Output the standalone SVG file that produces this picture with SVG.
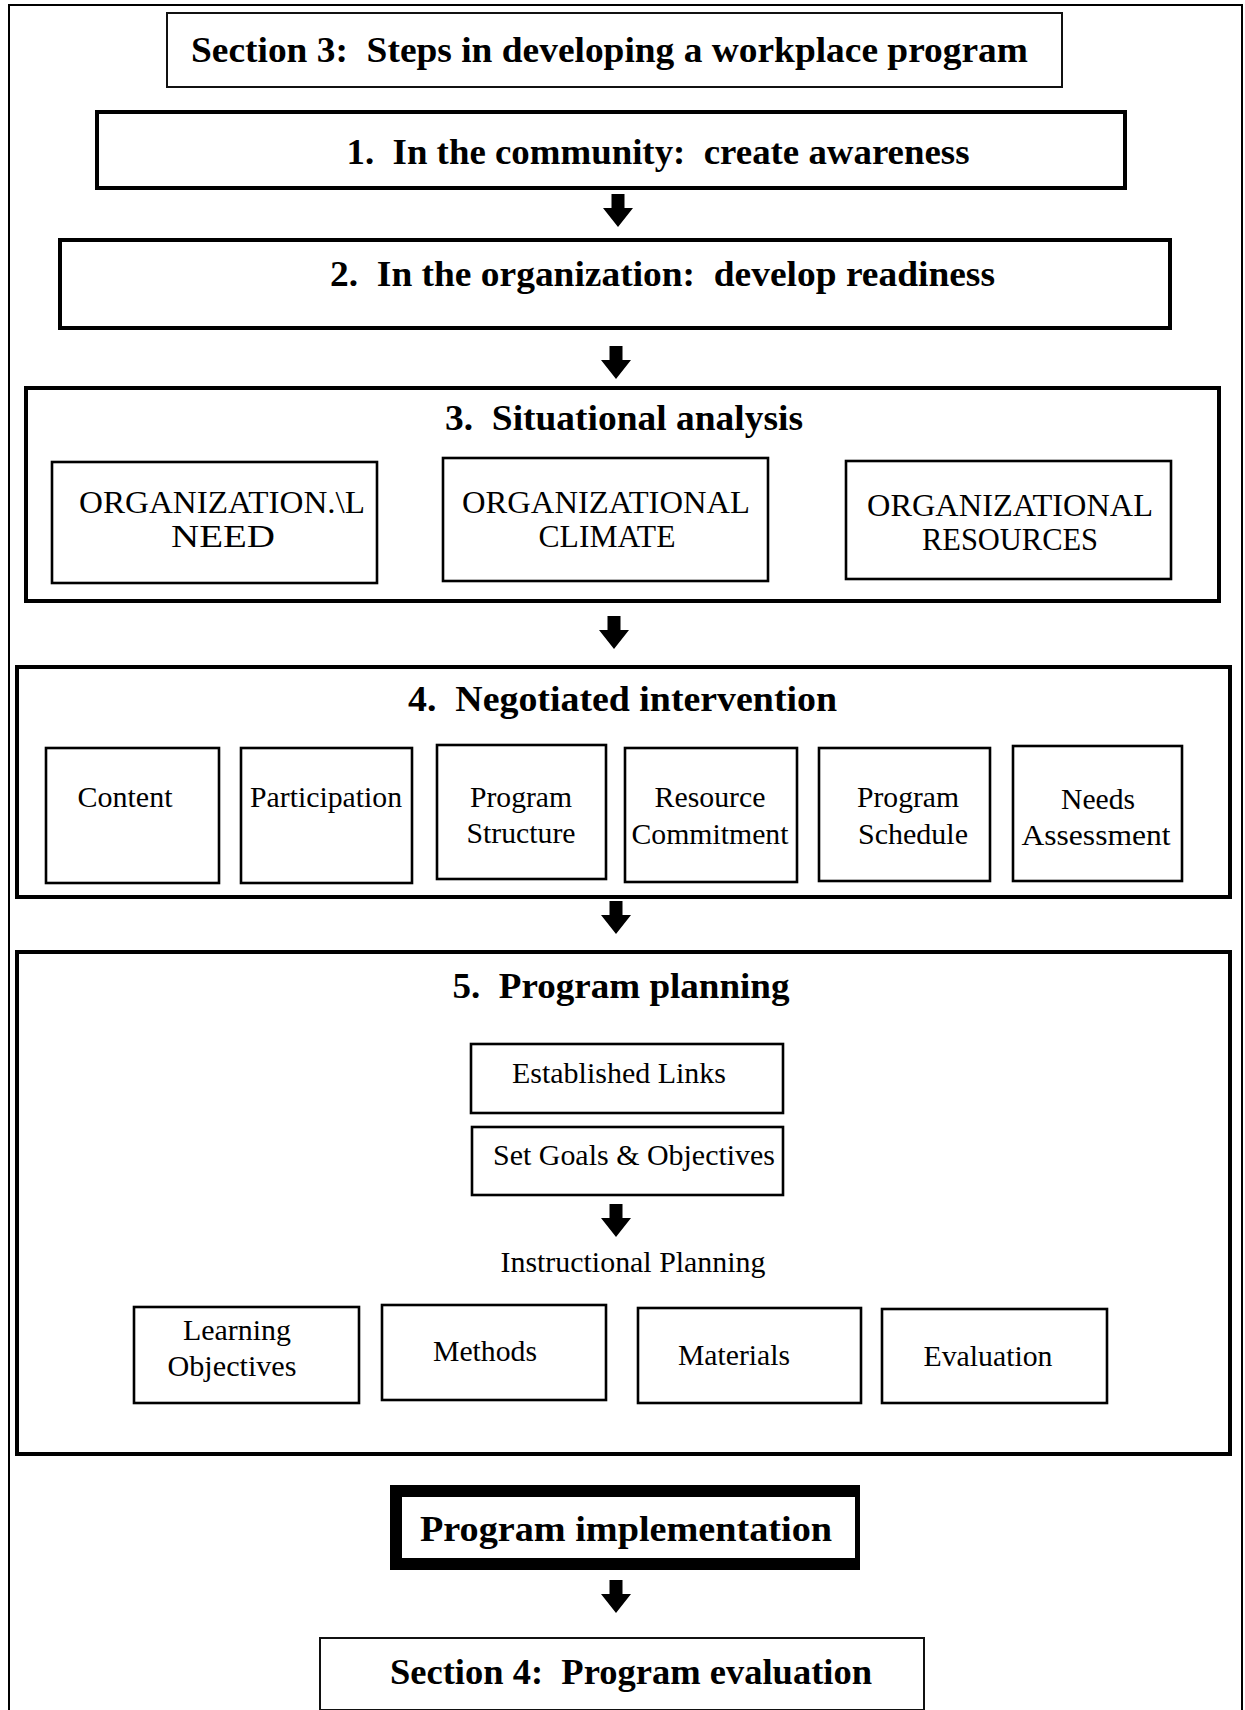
<svg xmlns="http://www.w3.org/2000/svg" width="1245" height="1710" viewBox="0 0 1245 1710">
<style>
.frame{fill:none;stroke:#000;stroke-width:2}
.thin{fill:#fff;stroke:#111;stroke-width:2}
.box{fill:#fff;stroke:#000;stroke-width:2.6}
.main{fill:#fff;stroke:#000;stroke-width:4}
.h{font-family:"Liberation Serif","Times New Roman",serif;font-weight:bold;font-size:36px;text-anchor:middle;white-space:pre;fill:#000}
.t{font-family:"Liberation Serif","Times New Roman",serif;font-size:30px;text-anchor:middle;white-space:pre;fill:#000}
.caps{font-size:32px}
.arrow{fill:#000}
</style>
<defs>
<path id="arr" d="M -6.5,0 H 6.5 V 14 H 15 L 0,33 L -15,14 H -6.5 Z"/>
</defs>
<rect width="1245" height="1710" fill="#fff"/>
<path class="frame" d="M 9,1712 V 5 H 1242 V 1712"/>

<g id="title">
<rect class="thin" x="167" y="13" width="895" height="74"/>
<text class="h" x="609.5" y="62" textLength="837" lengthAdjust="spacingAndGlyphs">Section 3:  Steps in developing a workplace program</text>
</g>

<g id="step1">
<rect class="main" x="97" y="112" width="1028" height="76"/>
<text class="h" x="658" y="164" textLength="623" lengthAdjust="spacingAndGlyphs">1.  In the community:  create awareness</text>
</g>

<g id="step2">
<rect class="main" x="60" y="240" width="1110" height="88"/>
<text class="h" x="662.5" y="286" textLength="665" lengthAdjust="spacingAndGlyphs">2.  In the organization:  develop readiness</text>
</g>

<g id="step3">
<rect class="main" x="26" y="388" width="1193" height="213"/>
<text class="h" x="624" y="430" textLength="358" lengthAdjust="spacingAndGlyphs">3.  Situational analysis</text>
</g>
<g id="org-need">
<rect class="box" x="52" y="462" width="325" height="121"/>
<text class="t caps" x="222" y="513" textLength="286" lengthAdjust="spacingAndGlyphs">ORGANIZATION.\L</text>
<text class="t caps" x="223" y="547" textLength="104" lengthAdjust="spacingAndGlyphs">NEED</text>
</g>
<g id="org-climate">
<rect class="box" x="443" y="458" width="325" height="123"/>
<text class="t caps" x="606" y="513" textLength="288" lengthAdjust="spacingAndGlyphs">ORGANIZATIONAL</text>
<text class="t caps" x="607" y="547" textLength="137" lengthAdjust="spacingAndGlyphs">CLIMATE</text>
</g>
<g id="org-resources">
<rect class="box" x="846" y="461" width="325" height="118"/>
<text class="t caps" x="1010" y="516" textLength="286" lengthAdjust="spacingAndGlyphs">ORGANIZATIONAL</text>
<text class="t caps" x="1010" y="550" textLength="176" lengthAdjust="spacingAndGlyphs">RESOURCES</text>
</g>

<g id="step4">
<rect class="main" x="17" y="667" width="1213" height="230"/>
<text class="h" x="622.5" y="711" textLength="429" lengthAdjust="spacingAndGlyphs">4.  Negotiated intervention</text>
</g>
<g id="content">
<rect class="box" x="46" y="748" width="173" height="135"/>
<text class="t" x="125" y="807" textLength="95" lengthAdjust="spacingAndGlyphs">Content</text>
</g>
<g id="participation">
<rect class="box" x="241" y="748" width="171" height="135"/>
<text class="t" x="326" y="807" textLength="152" lengthAdjust="spacingAndGlyphs">Participation</text>
</g>
<g id="program-structure">
<rect class="box" x="437" y="745" width="169" height="134"/>
<text class="t" x="521" y="807" textLength="102" lengthAdjust="spacingAndGlyphs">Program</text>
<text class="t" x="521" y="843" textLength="109" lengthAdjust="spacingAndGlyphs">Structure</text>
</g>
<g id="resource-commitment">
<rect class="box" x="625" y="748" width="172" height="134"/>
<text class="t" x="710" y="807" textLength="111" lengthAdjust="spacingAndGlyphs">Resource</text>
<text class="t" x="710" y="844" textLength="157" lengthAdjust="spacingAndGlyphs">Commitment</text>
</g>
<g id="program-schedule">
<rect class="box" x="819" y="748" width="171" height="133"/>
<text class="t" x="908" y="807" textLength="102" lengthAdjust="spacingAndGlyphs">Program</text>
<text class="t" x="913" y="844" textLength="110" lengthAdjust="spacingAndGlyphs">Schedule</text>
</g>
<g id="needs-assessment">
<rect class="box" x="1013" y="746" width="169" height="135"/>
<text class="t" x="1098" y="809" textLength="74" lengthAdjust="spacingAndGlyphs">Needs</text>
<text class="t" x="1096" y="845" textLength="149" lengthAdjust="spacingAndGlyphs">Assessment</text>
</g>

<g id="step5">
<rect class="main" x="17" y="952" width="1213" height="502"/>
<text class="h" x="621" y="998" textLength="337" lengthAdjust="spacingAndGlyphs">5.  Program planning</text>
</g>
<g id="established-links">
<rect class="box" x="471" y="1044" width="312" height="69"/>
<text class="t" x="619" y="1083" textLength="214" lengthAdjust="spacingAndGlyphs">Established Links</text>
</g>
<g id="set-goals">
<rect class="box" x="472" y="1127" width="311" height="68"/>
<text class="t" x="634" y="1165" textLength="282" lengthAdjust="spacingAndGlyphs">Set Goals &amp; Objectives</text>
</g>
<g id="instructional-planning">
<text class="t" x="633" y="1272" textLength="265" lengthAdjust="spacingAndGlyphs">Instructional Planning</text>
</g>
<g id="learning-objectives">
<rect class="box" x="134" y="1307" width="225" height="96"/>
<text class="t" x="237" y="1340" textLength="108" lengthAdjust="spacingAndGlyphs">Learning</text>
<text class="t" x="232" y="1376" textLength="129" lengthAdjust="spacingAndGlyphs">Objectives</text>
</g>
<g id="methods">
<rect class="box" x="382" y="1305" width="224" height="95"/>
<text class="t" x="485" y="1361" textLength="104" lengthAdjust="spacingAndGlyphs">Methods</text>
</g>
<g id="materials">
<rect class="box" x="638" y="1308" width="223" height="95"/>
<text class="t" x="734" y="1365" textLength="112" lengthAdjust="spacingAndGlyphs">Materials</text>
</g>
<g id="evaluation">
<rect class="box" x="882" y="1309" width="225" height="94"/>
<text class="t" x="988" y="1366" textLength="129" lengthAdjust="spacingAndGlyphs">Evaluation</text>
</g>

<g id="implementation">
<path fill="#000" fill-rule="evenodd" d="M 390,1485 H 860 V 1570 H 390 Z M 402,1497 V 1558 H 855 V 1497 Z"/>
<text class="h" x="626" y="1541" textLength="412" lengthAdjust="spacingAndGlyphs">Program implementation</text>
</g>

<g id="section4">
<rect class="thin" x="320" y="1638" width="604" height="72"/>
<text class="h" x="631" y="1684" textLength="482" lengthAdjust="spacingAndGlyphs">Section 4:  Program evaluation</text>
</g>

<g id="connectors" class="arrow">
<use href="#arr" x="618" y="194"/>
<use href="#arr" x="616" y="346"/>
<use href="#arr" x="614" y="616"/>
<use href="#arr" x="616" y="901"/>
<use href="#arr" x="616" y="1204"/>
<use href="#arr" x="616" y="1580"/>
</g>
</svg>
